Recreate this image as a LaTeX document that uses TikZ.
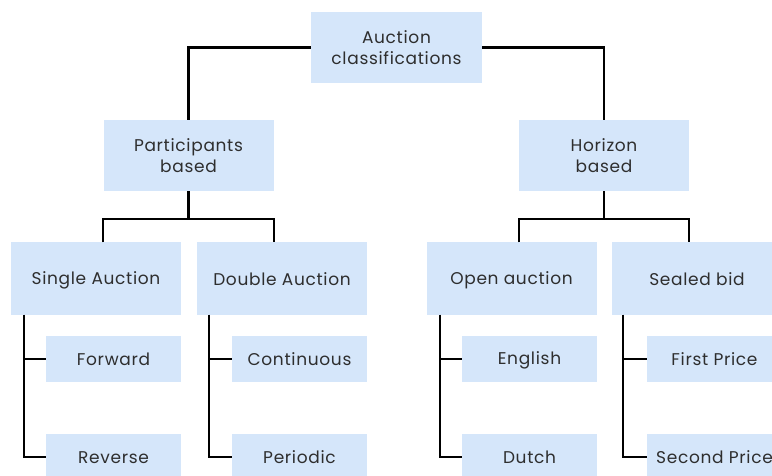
\documentclass[tikz,border=0pt]{standalone}
\usepackage{fontspec}
\setmainfont{Poppins}[LetterSpace=4]
\usetikzlibrary{calc}
\definecolor{boxblue}{HTML}{D5E6FA}
\definecolor{txt}{HTML}{2E2E2E}
\newcommand{\ls}{\rule[-3.5pt]{0pt}{20pt}}
\tikzset{
  box/.style={rectangle, fill=boxblue, inner sep=0pt, text=txt, align=center,
    font=\fontsize{17}{21.5}\selectfont},
  bigbox/.style={box, minimum width=170pt, minimum height=72pt},
  leafbox/.style={box, minimum width=135pt, minimum height=46pt},
  conn/.style={line width=2.2pt, black, line join=miter}
}
\begin{document}
\begin{tikzpicture}[x=1pt,y=-1pt]
\clip (0,0) rectangle (772,476);
\useasboundingbox (0,0) rectangle (772,476);
\fill[white] (0,0) rectangle (772,476);
\node[bigbox, minimum width=171pt, minimum height=71pt] (root) at (396.5,47.5) {\ls Auction\\\ls classifications};
\node[bigbox, minimum height=71pt] (part) at (188.5,155.5) {\ls Participants\\\ls based};
\node[bigbox, minimum height=71pt] (hor) at (604,155.5) {\ls Horizon\\\ls based};
\node[bigbox] (single) at (96,278.5) {\ls Single Auction};
\node[bigbox] (double) at (282,278.5) {\ls Double Auction};
\node[bigbox] (open) at (511.5,278.5) {\ls Open auction};
\node[bigbox] (sealed) at (697,278.5) {\ls Sealed bid};
\node[leafbox] (forward) at (113.5,359) {\ls Forward};
\node[leafbox] (reverse) at (113.5,457) {\ls Reverse};
\node[leafbox] (cont) at (299.5,359) {\ls Continuous};
\node[leafbox] (periodic) at (299.5,457) {\ls Periodic};
\node[leafbox] (english) at (529.5,359) {\ls English};
\node[leafbox] (dutch) at (529.5,457) {\ls Dutch};
\node[leafbox] (first) at (714.5,359) {\ls First Price};
\node[leafbox] (second) at (714.5,457) {\ls Second Price};
% top level
\draw[conn] (root.west) -| (part.north);
\draw[conn] (root.east) -| (hor.north);
% second level
\draw[conn] (part.south) -- ++(0,28) coordinate (pj);
\draw[conn] (single.north -| part.west) |- (pj) -| (double.north -| part.east);
\draw[conn] (hor.south) -- ++(0,28) coordinate (hj);
\draw[conn] (open.north -| hor.west) |- (hj) -| (sealed.north -| hor.east);
% leaves
\coordinate (sv) at ($(single.south west)+(13,0)$);
\draw[conn] (sv) |- (reverse.west);
\draw[conn] (sv |- forward.west) -- (forward.west);
\coordinate (dv) at ($(double.south west)+(12,0)$);
\draw[conn] (dv) |- (periodic.west);
\draw[conn] (dv |- cont.west) -- (cont.west);
\coordinate (ov) at ($(open.south west)+(14,0)$);
\draw[conn] (ov) |- (dutch.west);
\draw[conn] (ov |- english.west) -- (english.west);
\coordinate (sbv) at ($(sealed.south west)+(11,0)$);
\draw[conn] (sbv) |- (second.west);
\draw[conn] (sbv |- first.west) -- (first.west);
\end{tikzpicture}
\end{document}
